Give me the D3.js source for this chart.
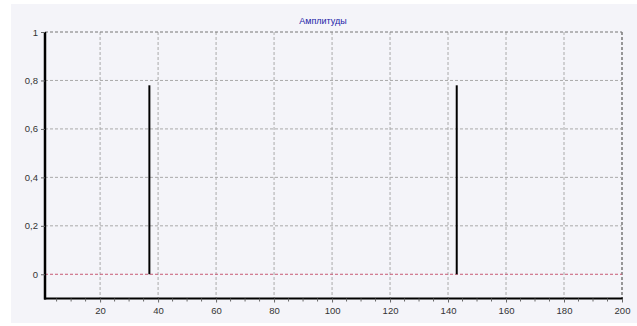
<!DOCTYPE html>
<html>
<head>
<meta charset="utf-8">
<script src="https://cdn.jsdelivr.net/npm/d3@7"></script>
<style>
  body { margin: 0; background: #fff; }
  text { font-family: "Liberation Sans", Arial, sans-serif; }
</style>
</head>
<body>
<div id="chart"></div>
<script>
// spectrum amplitudes: only two non-zero harmonics
const harmonics = [37, 143]
const amplitudes = [0.78, 0.78]
const xTicks = [20, 40, 60, 80, 100, 120, 140, 160, 180, 200]
const yTicks = [0, 0.2, 0.4, 0.6, 0.8, 1]
const title = 'Амплитуды'

const width = 637
const height = 326

const svg = d3.select('#chart').append('svg')
  .attr('width', width)
  .attr('height', height)

// panel background
svg.append('rect')
  .attr('x', 11).attr('y', 4)
  .attr('width', width - 11).attr('height', 319)
  .attr('fill', '#f4f4f9')

const x = d3.scaleLinear().domain([1, 200]).range([45, 622])
const y = d3.scaleLinear().domain([-0.1, 1]).range([298.5, 32])

const fmt = d => d === 0 || d === 1 ? String(d) : String(d).replace('.', ',')

// grid
svg.append('g').selectAll('line')
  .data(xTicks)
  .join('line')
  .attr('x1', d => x(d)).attr('x2', d => x(d))
  .attr('y1', y(1)).attr('y2', y(-0.1))
  .attr('stroke', d => d === 200 ? '#777' : '#aaa')
  .attr('stroke-width', d => d === 200 ? 1.5 : 1)
  .attr('stroke-dasharray', '3,2')

svg.append('g').selectAll('line')
  .data(yTicks.filter(d => d !== 0))
  .join('line')
  .attr('x1', x(1)).attr('x2', x(200))
  .attr('y1', d => y(d)).attr('y2', d => y(d))
  .attr('stroke', d => d === 1 ? '#777' : '#aaa')
  .attr('stroke-dasharray', '3,2')

// zero line
svg.append('line')
  .attr('x1', x(1)).attr('x2', x(200))
  .attr('y1', y(0)).attr('y2', y(0))
  .attr('stroke', '#c85a74')
  .attr('stroke-dasharray', '3,2')

// spikes
svg.append('g').selectAll('line')
  .data(harmonics)
  .join('line')
  .attr('x1', d => x(d)).attr('x2', d => x(d))
  .attr('y1', y(0))
  .attr('y2', (d, i) => y(amplitudes[i]))
  .attr('stroke', '#000')
  .attr('stroke-width', 2)

// axes
const xAxis = svg.append('g')
  .attr('transform', `translate(0,${y(-0.1)})`)
  .call(d3.axisBottom(x).tickValues(xTicks).tickSize(4).tickPadding(5))
xAxis.select('.domain').attr('stroke', '#000').attr('stroke-width', 2)
  .attr('d', `M${x(1) - 1},0H${x(200) + 1}`)
xAxis.selectAll('text').attr('fill', '#333').attr('font-size', 9.5)
xAxis.selectAll('.tick line').attr('stroke', '#666')

// minor ticks on x
xAxis.append('g').selectAll('line')
  .data(d3.range(5, 200, 5).filter(d => d % 20 !== 0))
  .join('line')
  .attr('x1', d => x(d)).attr('x2', d => x(d))
  .attr('y1', 0).attr('y2', 3)
  .attr('stroke', '#666')

const yAxis = svg.append('g')
  .attr('transform', `translate(${x(1)},0)`)
  .call(d3.axisLeft(y).tickValues(yTicks).tickFormat(fmt).tickSize(4).tickPadding(3))
yAxis.select('.domain').attr('stroke', '#000').attr('stroke-width', 2.5)
  .attr('d', `M0,${y(1)}V${y(-0.1) + 1}`)
yAxis.selectAll('text').attr('fill', '#333').attr('font-size', 9.5)
yAxis.selectAll('.tick line').attr('stroke', '#666')

// title
svg.append('text')
  .attr('x', 323).attr('y', 24)
  .attr('text-anchor', 'middle')
  .attr('font-size', 9)
  .attr('fill', '#1c1ca8')
  .text(title)
</script>
</body>
</html>
